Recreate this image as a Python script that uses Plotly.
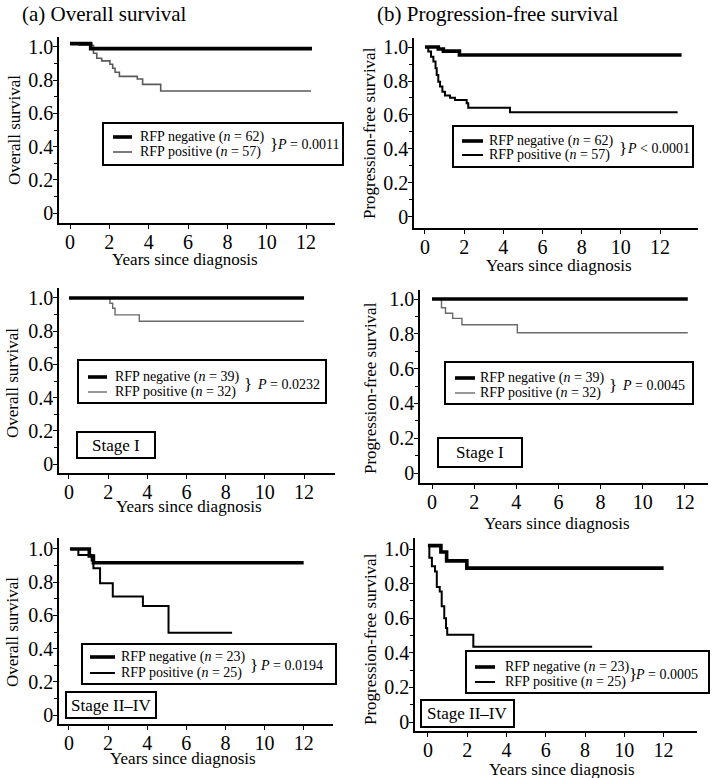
import plotly.graph_objects as go

W, H = 720, 778
FONT = "Liberation Serif, Times New Roman, serif"

# ---------------- data ----------------
# (a) Overall survival, all patients
os_all_neg_t = [0, 1.05, 12.3]
os_all_neg_s = [1.02, 0.99, 0.99]
os_all_pos_t = [0, 0.47, 1.19, 1.36, 1.61, 2.03, 2.17, 2.29, 2.51, 3.42, 3.69, 4.61, 12.25]
os_all_pos_s = [1.02, 1.01, 0.962, 0.932, 0.916, 0.896, 0.872, 0.848, 0.823, 0.807, 0.775, 0.735, 0.735]

# (b) Progression-free survival, all patients
pfs_all_neg_t = [0, 0.68, 0.94, 1.76, 13.1]
pfs_all_neg_s = [1.0, 0.988, 0.976, 0.953, 0.953]
pfs_all_pos_t = [0, 0.17, 0.31, 0.43, 0.54, 0.60, 0.68, 0.77, 0.89, 1.02, 1.28, 1.53, 2.13, 2.21, 4.34, 12.9]
pfs_all_pos_s = [1.0, 0.973, 0.943, 0.914, 0.875, 0.835, 0.796, 0.767, 0.737, 0.714, 0.702, 0.688, 0.669, 0.643, 0.616, 0.616]

# Stage I, overall survival
os_s1_neg_t = [0, 12.0]
os_s1_neg_s = [1.0, 1.0]
os_s1_pos_t = [0, 2.09, 2.23, 2.35, 3.59, 12.0]
os_s1_pos_s = [1.0, 0.968, 0.938, 0.898, 0.86, 0.86]

# Stage I, progression-free survival
pfs_s1_neg_t = [0, 12.14]
pfs_s1_neg_s = [1.0, 1.0]
pfs_s1_pos_t = [0, 0.45, 0.64, 0.98, 1.42, 4.05, 12.14]
pfs_s1_pos_s = [1.0, 0.95, 0.918, 0.889, 0.852, 0.806, 0.806]

# Stage II-IV, overall survival
os_s2_neg_t = [0.05, 1.04, 1.25, 12.0]
os_s2_neg_s = [1.0, 0.958, 0.917, 0.917]
os_s2_pos_t = [0.05, 0.48, 1.16, 1.25, 1.59, 2.24, 3.78, 5.09, 8.34]
os_s2_pos_s = [1.0, 0.964, 0.93, 0.884, 0.793, 0.713, 0.657, 0.496, 0.496]

# Stage II-IV, progression-free survival
pfs_s2_neg_t = [0, 0.66, 0.95, 1.98, 12.0]
pfs_s2_neg_s = [1.02, 0.983, 0.932, 0.89, 0.89]
pfs_s2_pos_t = [0, 0.07, 0.2, 0.36, 0.45, 0.6, 0.7, 0.83, 0.92, 0.98, 2.31, 8.36]
pfs_s2_pos_s = [1.02, 0.95, 0.9, 0.87, 0.78, 0.755, 0.669, 0.6, 0.543, 0.505, 0.435, 0.435]

x_ticks = [0, 2, 4, 6, 8, 10, 12]
y_ticks = [0, 0.2, 0.4, 0.6, 0.8, 1.0]
y_tick_text = ["0", "0.2", "0.4", "0.6", "0.8", "1.0"]

n_neg = [62, 62, 39, 39, 23, 23]
n_pos = [57, 57, 32, 32, 25, 25]
p_text = ["<i>P</i> = 0.0011", "<i>P</i> < 0.0001", "<i>P</i> = 0.0232",
          "<i>P</i> = 0.0045", "<i>P</i> = 0.0194", "<i>P</i> = 0.0005"]
y_titles = ["Overall survival", "Progression-free survival"] * 3
x_title = "Years since diagnosis"
stage_labels = [None, None, "Stage I", "Stage I", "Stage II\u2013IV", "Stage II\u2013IV"]
panel_titles = ["(a) Overall survival", "(b) Progression-free survival"]

series = [
    (os_all_neg_t, os_all_neg_s, os_all_pos_t, os_all_pos_s),
    (pfs_all_neg_t, pfs_all_neg_s, pfs_all_pos_t, pfs_all_pos_s),
    (os_s1_neg_t, os_s1_neg_s, os_s1_pos_t, os_s1_pos_s),
    (pfs_s1_neg_t, pfs_s1_neg_s, pfs_s1_pos_t, pfs_s1_pos_s),
    (os_s2_neg_t, os_s2_neg_s, os_s2_pos_t, os_s2_pos_s),
    (pfs_s2_neg_t, pfs_s2_neg_s, pfs_s2_pos_t, pfs_s2_pos_s),
]

# ---------------- layout geometry (pixels) ----------------
panels = [
    dict(xd=(59, 335), xr=(-0.56, 13.47), yd=(37, 223), yr=(-0.06, 1.06),
         box=(103, 123, 343, 165), ls=(113, 132), ly=(137, 152), tx=138, bx=268, px=275,
         pos_col="#5a5a5a", pos_w=1.6,
         xt=(185, 259), yt=(14, 130), stage=None),
    dict(xd=(414, 698), xr=(-0.56, 13.94), yd=(38, 228), yr=(-0.065, 1.053),
         box=(453, 126, 693, 167), ls=(462, 483), ly=(141, 155), tx=487, bx=617, px=625,
         pos_col="black", pos_w=2.0,
         xt=(559, 265), yt=(370, 133), stage=None),
    dict(xd=(59, 335), xr=(-0.51, 13.58), yd=(288, 473), yr=(-0.054, 1.06),
         box=(78, 360, 326, 403), ls=(88, 107), ly=(377, 392), tx=113, bx=242, px=255,
         pos_col="#6a6a6a", pos_w=1.4,
         xt=(189, 506), yt=(12, 383), stage=(77, 432, 155, 458)),
    dict(xd=(420, 708), xr=(-0.57, 13.1), yd=(290, 483), yr=(-0.057, 1.052),
         box=(445, 362, 693, 404), ls=(455, 475), ly=(378, 393), tx=478, bx=607, px=620,
         pos_col="#6a6a6a", pos_w=1.4,
         xt=(557, 523), yt=(370, 388), stage=(438, 438, 522, 467)),
    dict(xd=(59, 333), xr=(-0.51, 13.5), yd=(538, 724), yr=(-0.054, 1.066),
         box=(82, 644, 336, 684), ls=(90, 115), ly=(657, 673), tx=119, bx=248, px=258,
         pos_col="black", pos_w=2.0,
         xt=(183, 758), yt=(12, 632), stage=(66, 692, 156, 718)),
    dict(xd=(415, 697), xr=(-0.66, 13.7), yd=(538, 731), yr=(-0.052, 1.064),
         box=(466, 651, 709, 693), ls=(475, 495), ly=(667, 682), tx=503, bx=627, px=633,
         pos_col="black", pos_w=2.0,
         xt=(562, 769), yt=(370, 639), stage=(421, 700, 514, 727)),
]


def fx(p):
    return p / W


def fy(p):
    return 1 - p / H


fig = go.Figure()
shapes = []
annotations = []
layout_axes = {}

for i, (pn, (nt, ns, pt, ps)) in enumerate(zip(panels, series)):
    k = "" if i == 0 else str(i + 1)
    xa, ya = "x" + k, "y" + k
    fig.add_trace(go.Scatter(x=pt, y=ps, mode="lines", line=dict(shape="hv", color=pn["pos_col"], width=pn["pos_w"]),
                             xaxis=xa, yaxis=ya, showlegend=False, hoverinfo="skip"))
    fig.add_trace(go.Scatter(x=nt, y=ns, mode="lines", line=dict(shape="hv", color="black", width=3.6),
                             xaxis=xa, yaxis=ya, showlegend=False, hoverinfo="skip"))
    layout_axes["xaxis" + k] = dict(
        domain=[fx(pn["xd"][0]), fx(pn["xd"][1])], range=list(pn["xr"]), anchor=ya,
        showline=True, linecolor="black", linewidth=1.5, showgrid=False, zeroline=False,
        ticks="outside", ticklen=4, tickwidth=1.2, tickcolor="black",
        tickvals=x_ticks, ticktext=[str(v) for v in x_ticks], ticklabelstandoff=-4,
        tickfont=dict(family=FONT, size=20, color="black"), fixedrange=True)
    layout_axes["yaxis" + k] = dict(
        domain=[fy(pn["yd"][1]), fy(pn["yd"][0])], range=list(pn["yr"]), anchor=xa,
        showline=True, linecolor="black", linewidth=1.5, showgrid=False, zeroline=False,
        ticks="outside", ticklen=4, tickwidth=1.2, tickcolor="black",
        tickvals=y_ticks, ticktext=y_tick_text, ticklabelstandoff=-4,
        minor=dict(tickvals=[0.1, 0.3, 0.5, 0.7, 0.9], ticks="outside", ticklen=3, tickwidth=1, tickcolor="black"),
        tickfont=dict(family=FONT, size=20, color="black"), fixedrange=True)

    # legend box
    x0, y0, x1, y1 = pn["box"]
    shapes.append(dict(type="rect", xref="paper", yref="paper", x0=fx(x0), x1=fx(x1), y0=fy(y1), y1=fy(y0),
                       line=dict(color="black", width=2), fillcolor="white", layer="above"))
    shapes.append(dict(type="line", xref="paper", yref="paper", x0=fx(pn["ls"][0]), x1=fx(pn["ls"][1]),
                       y0=fy(pn["ly"][0]), y1=fy(pn["ly"][0]), line=dict(color="black", width=3.6), layer="above"))
    shapes.append(dict(type="line", xref="paper", yref="paper", x0=fx(pn["ls"][0]), x1=fx(pn["ls"][1]),
                       y0=fy(pn["ly"][1]), y1=fy(pn["ly"][1]), line=dict(color=pn["pos_col"], width=pn["pos_w"]), layer="above"))
    annotations.append(dict(xref="paper", yref="paper", x=fx(pn["tx"]), y=fy(pn["ly"][0]), xanchor="left", yanchor="middle",
                            text="RFP negative (<i>n</i> = %d)" % n_neg[i], showarrow=False,
                            font=dict(family=FONT, size=14, color="black")))
    annotations.append(dict(xref="paper", yref="paper", x=fx(pn["tx"]), y=fy(pn["ly"][1]), xanchor="left", yanchor="middle",
                            text="RFP positive (<i>n</i> = %d)" % n_pos[i], showarrow=False,
                            font=dict(family=FONT, size=14, color="black")))
    annotations.append(dict(xref="paper", yref="paper", x=fx(pn["bx"]), y=fy((pn["ly"][0] + pn["ly"][1]) / 2),
                            xanchor="left", yanchor="middle", text="}", showarrow=False,
                            font=dict(family=FONT, size=17, color="black")))
    annotations.append(dict(xref="paper", yref="paper", x=fx(pn["px"]), y=fy((pn["ly"][0] + pn["ly"][1]) / 2),
                            xanchor="left", yanchor="middle", text=p_text[i], showarrow=False,
                            font=dict(family=FONT, size=14, color="black")))
    # axis titles
    annotations.append(dict(xref="paper", yref="paper", x=fx(pn["xt"][0]), y=fy(pn["xt"][1]),
                            xanchor="center", yanchor="middle", text=x_title, showarrow=False,
                            font=dict(family=FONT, size=17, color="black")))
    annotations.append(dict(xref="paper", yref="paper", x=fx(pn["yt"][0]), y=fy(pn["yt"][1]),
                            xanchor="center", yanchor="middle", text=y_titles[i], textangle=-90, showarrow=False,
                            font=dict(family=FONT, size=17, color="black")))
    # stage label box
    if pn["stage"] is not None:
        s0, t0, s1, t1 = pn["stage"]
        shapes.append(dict(type="rect", xref="paper", yref="paper", x0=fx(s0), x1=fx(s1), y0=fy(t1), y1=fy(t0),
                           line=dict(color="black", width=2), fillcolor="white", layer="above"))
        annotations.append(dict(xref="paper", yref="paper", x=fx((s0 + s1) / 2), y=fy((t0 + t1) / 2),
                                xanchor="center", yanchor="middle", text=stage_labels[i], showarrow=False,
                                font=dict(family=FONT, size=17, color="black")))

annotations.append(dict(xref="paper", yref="paper", x=fx(20), y=fy(14), xanchor="left", yanchor="middle",
                        text=panel_titles[0], showarrow=False, font=dict(family=FONT, size=21, color="black")))
annotations.append(dict(xref="paper", yref="paper", x=fx(375), y=fy(14), xanchor="left", yanchor="middle",
                        text=panel_titles[1], showarrow=False, font=dict(family=FONT, size=21, color="black")))

fig.update_layout(width=W, height=H, margin=dict(l=0, r=0, t=0, b=0, autoexpand=False),
                  paper_bgcolor="white", plot_bgcolor="white",
                  shapes=shapes, annotations=annotations, showlegend=False,
                  font=dict(family=FONT, color="black"), **layout_axes)

fig.write_html("out.html", config={"displayModeBar": False},
               post_script="document.body.style.margin='0';document.body.style.padding='0';document.body.style.overflow='hidden';")
